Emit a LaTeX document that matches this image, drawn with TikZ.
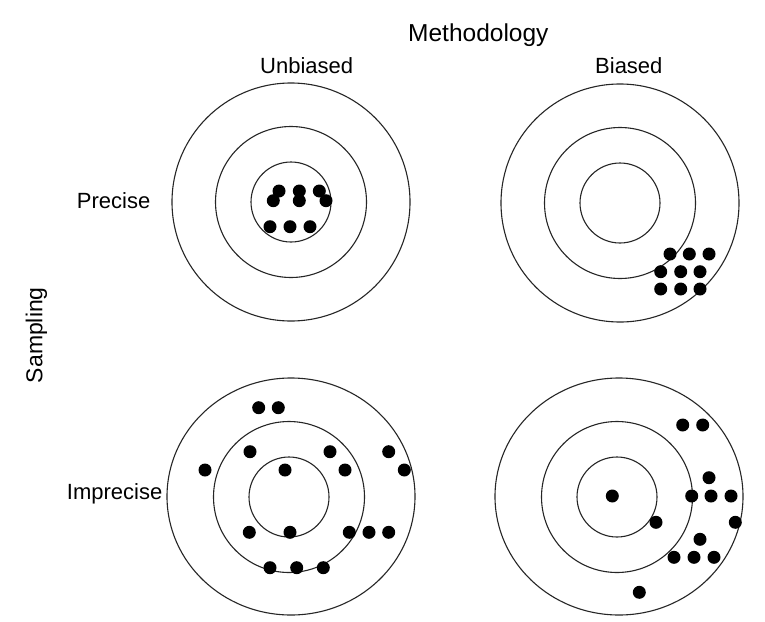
\documentclass[tikz,border=0pt]{standalone}
\usepackage{fontspec}
\setmainfont{Liberation Sans}
\begin{document}
\begin{tikzpicture}[x=1pt,y=-1pt,
  ring/.style={draw=black!85,line width=1.1pt},
  hit/.style={fill=black},
  lbl/.style={inner sep=0pt,anchor=base west,font=\fontsize{22}{24}\selectfont}]
\useasboundingbox (0,0) rectangle (765,621);
\fill[white] (0,0) rectangle (765,621);
% labels
\node[lbl,font=\fontsize{24.5}{26}\selectfont] (meth) at (408,41.7) {Methodology};
\node[lbl] (unb) at (260,73.3) {Unbiased};
\node[lbl] (bia) at (595,73.3) {Biased};
\node[lbl] (pre) at (76.7,208.3) {Precise};
\node[lbl] (imp) at (66.7,499) {Imprecise};
\node[lbl,rotate=90,font=\fontsize{23}{25}\selectfont] (samp) at (42.3,383.3) {Sampling};
% targets
\foreach \cx/\cy in {291/202, 620/203}{
  \draw[ring] (\cx,\cy) circle[radius=40];
  \draw[ring] (\cx,\cy) circle[radius=75.5];
  \draw[ring] (\cx,\cy) circle[radius=119];
}
\foreach \cx/\cy in {289/497, 617/497}{
  \draw[ring] (\cx,\cy) circle[radius=40];
  \draw[ring] (\cx,\cy) circle[radius=75.5];
  \draw[ring] (\cx+2,\cy-0.5) ellipse[x radius=124,y radius=118.5];
}
% dots: precise unbiased
\foreach \x/\y in {279/191, 273.3/200.7, 299.3/191, 299.3/200.7, 319.3/191, 326/200.7,
  270/226.7, 290/226.7, 310/226.7}
  \fill[hit] (\x,\y) circle[radius=6.5];
% dots: precise biased
\foreach \x/\y in {670/254, 689.3/254, 709/254, 660.7/271.7, 680.7/271.7, 700/271.7,
  660.7/289, 680.7/289, 700/289}
  \fill[hit] (\x,\y) circle[radius=6.5];
% dots: imprecise unbiased
\foreach \x/\y in {258.7/407.7, 278.3/407.7, 250/451.7, 330/451.7, 388.7/451.7,
  205/470, 285/470, 345/470, 404.3/470,
  249.3/532.3, 290/532.3, 349.3/532.3, 369/532.3, 388.7/532.3,
  270/567.7, 296.7/567.7, 323.3/567.7}
  \fill[hit] (\x,\y) circle[radius=6.5];
% dots: imprecise biased
\foreach \x/\y in {612.3/496, 682.7/425, 702.7/425, 709/477.7,
  691.7/496, 711/496, 731/496, 656/522.3, 735.3/522.3, 700/539.3,
  674/557.3, 694/557.3, 714/557.3, 639.3/592.3}
  \fill[hit] (\x,\y) circle[radius=6.5];
\end{tikzpicture}
\end{document}
